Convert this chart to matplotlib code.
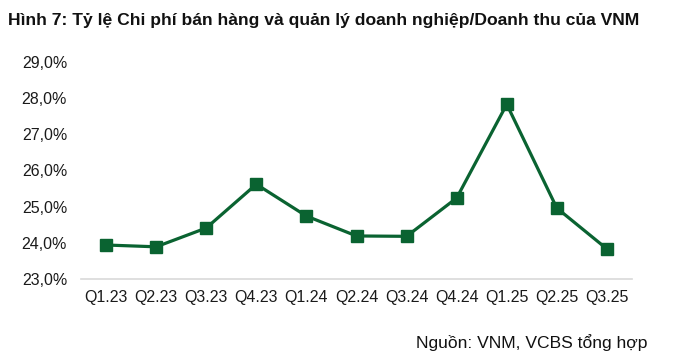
import matplotlib
matplotlib.use("Agg")
import matplotlib.pyplot as plt
from matplotlib.ticker import FuncFormatter

plt.rcParams["font.family"] = ["Liberation Sans", "DejaVu Sans"]

QUARTERS = ["Q1.23", "Q2.23", "Q3.23", "Q4.23", "Q1.24", "Q2.24",
            "Q3.24", "Q4.24", "Q1.25", "Q2.25", "Q3.25"]
SGA_RATIO = [23.94, 23.89, 24.41, 25.62, 24.74, 24.19,
             24.18, 25.24, 27.83, 24.96, 23.83]
Y_TICKS = [23, 24, 25, 26, 27, 28, 29]

GREEN = "#0a6331"

fig = plt.figure(figsize=(6.9, 3.58), dpi=100)
ax = fig.add_axes([81 / 690, 1 - 279 / 358, 551 / 690, 217 / 358])

x = list(range(len(QUARTERS)))
ax.plot(x, SGA_RATIO, color=GREEN, lw=2.3, marker="s", ms=8,
        markerfacecolor=GREEN, markeredgecolor=GREEN, clip_on=False)

ax.set_xlim(-0.5, len(QUARTERS) - 0.5)
ax.set_ylim(23, 29)
ax.set_yticks(Y_TICKS)
ax.yaxis.set_major_formatter(FuncFormatter(lambda v, _: f"{v:.1f}%".replace(".", ",")))
ax.set_xticks(x)
ax.set_xticklabels(QUARTERS)
ax.tick_params(axis="both", length=0, labelsize=11.5, colors="#1a1a1a")
ax.tick_params(axis="y", pad=10)
ax.tick_params(axis="x", pad=8)

for side in ["top", "right", "left"]:
    ax.spines[side].set_visible(False)
ax.spines["bottom"].set_color("#d9d9d9")
ax.spines["bottom"].set_linewidth(1.2)

fig.text(8 / 690, 1 - 20 / 358,
         "Hình 7: Tỷ lệ Chi phí bán hàng và quản lý doanh nghiệp/Doanh thu của VNM",
         fontsize=12.6, fontweight="bold", va="center", ha="left", color="#111111")
fig.text(648 / 690, 1 - 343 / 358, "Nguồn: VNM, VCBS tổng hợp",
         fontsize=12.6, va="center", ha="right", color="#111111")

fig.savefig("out.png", dpi=100, facecolor="white")
